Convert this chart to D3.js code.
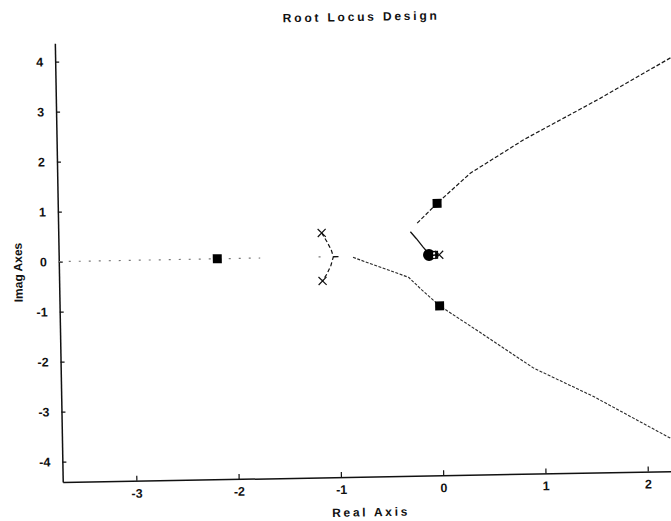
<!DOCTYPE html>
<html>
<head>
<meta charset="utf-8">
<script src="https://cdn.jsdelivr.net/npm/d3@7/dist/d3.min.js"></script>
<style>
  html, body { margin: 0; padding: 0; background: #fff; }
  svg { display: block; }
  .lbl { font-family: "Liberation Sans", Arial, sans-serif; fill: #111; }
</style>
</head>
<body>
<svg id="chart" width="671" height="521"></svg>
<script>
// Axis ranges and tick labels
const xDomain = [-3.72, 2.6];
const yDomain = [-4.41, 4.37];
const xTicks = [-3, -2, -1, 0, 1, 2];
const yTicks = [-4, -3, -2, -1, 0, 1, 2, 3, 4];

// Root locus branches (real, imag)
const upperBranch = [[-0.21, 0.64], [-0.012, 1.03], [0.318, 1.62], [0.845, 2.27], [1.60, 3.07], [2.29, 3.85], [2.45, 4.02]];
const lowerBranch = [[-0.843, -0.02], [-0.303, -0.44], [-0.174, -0.70], [-0.005, -1.02], [0.388, -1.57], [0.903, -2.30], [1.484, -2.89], [2.227, -3.75], [2.40, -3.95]];
const innerBranch = [[-0.278, 0.472], [-0.22, 0.33], [-0.16, 0.17], [-0.12, 0.07]];
const breakArc = [[-1.145, 0.48], [-1.095, 0.30], [-1.055, 0.14], [-1.035, 0], [-1.06, -0.17], [-1.10, -0.34], [-1.145, -0.48]];
const realAxisLocus = [[-3.72, 0], [-1.75, 0]];
const breakStub = [[-1.035, 0], [-0.985, 0]];
const realAxisDots = [[-1.17, 0]];

// Open-loop poles (x), closed-loop poles (squares), compensator marks
const openLoopPoles = [[-1.145, 0.48], [-1.145, -0.48], [0, 0]];
const closedLoopPoles = [[-2.17, 0], [-0.012, 1.03], [-0.005, -1.02]];
const compZero = [[-0.10, 0]];
const compPole = [[-0.045, 0]];

const svg = d3.select("#chart");
const tilt = -1.03;
const plot = svg.append("g").attr("transform", `rotate(${tilt},438.9,254.8)`);

const x = d3.scaleLinear().domain(xDomain).range([58.7, 705.2]);
const y = d3.scaleLinear().domain(yDomain).range([475.3, 36.3]);

const line = d3.line().x(d => x(d[0])).y(d => y(d[1]));

// Axes (ticks point inward)
const xAxis = d3.axisBottom(x).tickValues(xTicks).tickFormat(d3.format("d"))
  .tickSizeInner(-5).tickSizeOuter(0).tickPadding(8);
const yAxis = d3.axisLeft(y).tickValues(yTicks).tickFormat(d3.format("d"))
  .tickSizeInner(-4).tickSizeOuter(0).tickPadding(12);

const gx = plot.append("g").attr("transform", `translate(0,${y(yDomain[0])})`).call(xAxis);
const gy = plot.append("g").attr("transform", `translate(${x(xDomain[0])},0)`).call(yAxis);
[gx, gy].forEach(g => {
  g.select(".domain").attr("stroke", "#111").attr("stroke-width", 1.5);
  g.selectAll(".tick line").attr("stroke", "#111").attr("stroke-width", 1.2);
  g.selectAll(".tick text")
    .attr("class", "lbl")
    .style("font-size", "12.5px").style("font-weight", "bold").attr("fill", "#111");
});
gx.selectAll(".tick text").text(d => d < 0 ? "-" + Math.abs(d) : d);
gy.selectAll(".tick text").text(d => d < 0 ? "-" + Math.abs(d) : d);

// Real-axis locus (sparse dots)
plot.append("path").datum(realAxisLocus).attr("d", line)
  .attr("fill", "none").attr("stroke", "#777").attr("stroke-width", 1.2)
  .attr("stroke-dasharray", "2,8");
plot.selectAll(".rdot").data(realAxisDots).join("rect")
  .attr("x", d => x(d[0]) - 1).attr("y", d => y(d[1]) - 0.6)
  .attr("width", 2).attr("height", 1.2).attr("fill", "#777");

// Branches
plot.append("path").datum(breakArc).attr("d", line)
  .attr("fill", "none").attr("stroke", "#111").attr("stroke-width", 1.2)
  .attr("stroke-dasharray", "4,2.5");
plot.append("path").datum(breakStub).attr("d", line)
  .attr("fill", "none").attr("stroke", "#111").attr("stroke-width", 1.4);
plot.append("path").datum(upperBranch).attr("d", line)
  .attr("fill", "none").attr("stroke", "#1a1a1a").attr("stroke-width", 1.2)
  .attr("stroke-dasharray", "4,2");
plot.append("path").datum(lowerBranch).attr("d", line)
  .attr("fill", "none").attr("stroke", "#2a2a2a").attr("stroke-width", 1.1)
  .attr("stroke-dasharray", "3,1.5");
plot.append("path").datum(innerBranch).attr("d", line)
  .attr("fill", "none").attr("stroke", "#111").attr("stroke-width", 1.3);

// Closed-loop poles
plot.selectAll(".clp").data(closedLoopPoles).join("rect")
  .attr("x", d => x(d[0]) - 4.5).attr("y", d => y(d[1]) - 4.5)
  .attr("width", 9).attr("height", 9).attr("fill", "#000");

// Compensator zero (filled) and pole
plot.selectAll(".cz").data(compZero).join("circle")
  .attr("cx", d => x(d[0])).attr("cy", d => y(d[1])).attr("r", 6).attr("fill", "#000");
const cp = plot.selectAll(".cp").data(compPole).join("g")
  .attr("transform", d => `translate(${x(d[0])},${y(d[1])})`);
cp.append("rect").attr("x", -3.5).attr("y", -4).attr("width", 7).attr("height", 8).attr("fill", "#000");
cp.append("rect").attr("x", -1.5).attr("y", -2.5).attr("width", 2).attr("height", 2).attr("fill", "#fff");
cp.append("rect").attr("x", -1.5).attr("y", 1).attr("width", 2).attr("height", 2).attr("fill", "#fff");

// Open-loop poles
const xs = 4;
plot.selectAll(".olp").data(openLoopPoles).join("path")
  .attr("d", d => {
    const cx = x(d[0]), cy = y(d[1]);
    return `M${cx - xs},${cy - xs}L${cx + xs},${cy + xs}M${cx - xs},${cy + xs}L${cx + xs},${cy - xs}`;
  })
  .attr("fill", "none").attr("stroke", "#111").attr("stroke-width", 1.2);

// Title and axis labels
plot.append("text").attr("class", "lbl")
  .attr("x", 365.5).attr("y", 19.5).attr("text-anchor", "middle")
  .style("font-size", "12px").style("font-weight", "bold").style("letter-spacing", "2.8px")
  .text("Root Locus Design");
plot.append("text").attr("class", "lbl")
  .attr("x", 366.5).attr("y", 515).attr("text-anchor", "middle")
  .style("font-size", "12px").style("font-weight", "bold").style("letter-spacing", "2.7px")
  .text("Real Axis");
plot.append("text").attr("class", "lbl")
  .attr("transform", "translate(22,265) rotate(-90)").attr("text-anchor", "middle")
  .style("font-size", "12px").style("font-weight", "bold")
  .text("Imag Axes");
</script>
</body>
</html>
